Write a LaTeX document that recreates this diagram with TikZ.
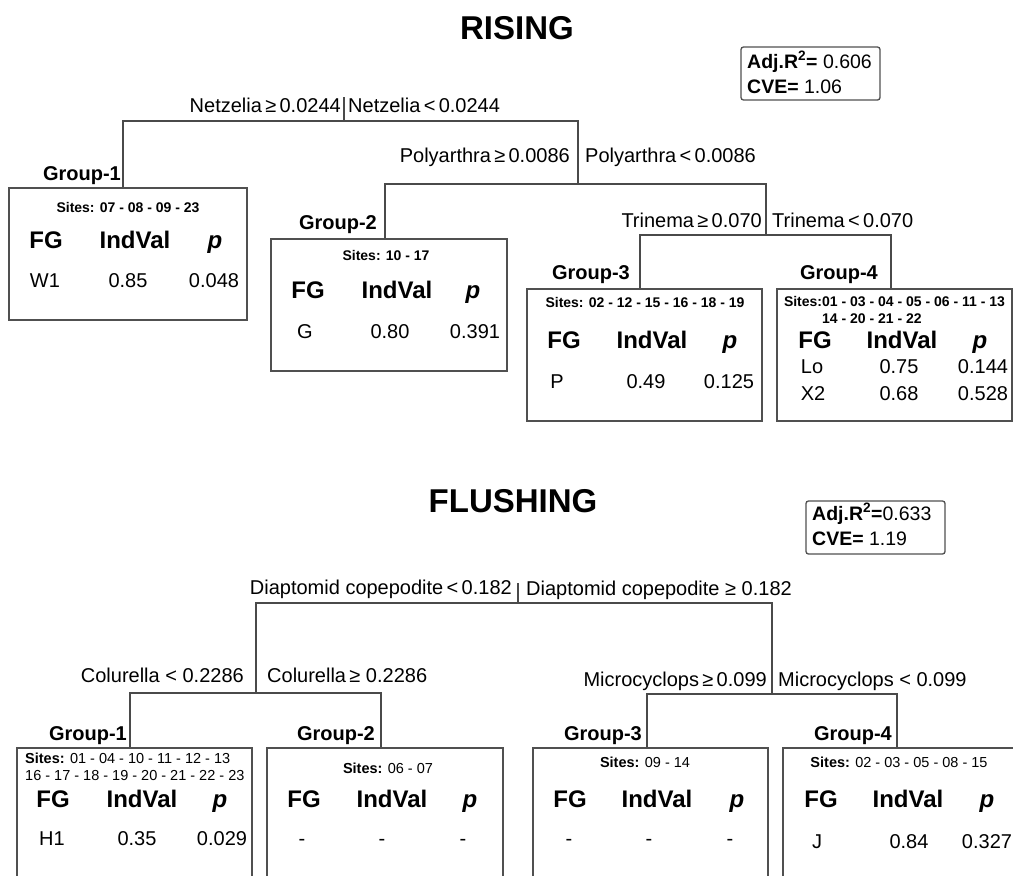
\documentclass[tikz,border=0pt]{standalone}
\usepackage{fontspec}
\setmainfont{Liberation Sans}
\definecolor{linegray}{HTML}{4A4A4A}
\definecolor{boxgray}{HTML}{505050}
\tikzset{
  lbl/.style={inner sep=0pt, font=\fontsize{20}{24}\selectfont},
  grp/.style={inner sep=0pt, anchor=base east, font=\fontsize{20}{24}\selectfont\bfseries},
  hdr/.style={inner sep=0pt, anchor=base, font=\fontsize{24}{28}\selectfont\bfseries},
  dat/.style={inner sep=0pt, anchor=base, font=\fontsize{20}{24}\selectfont},
  sitesr/.style={inner sep=0pt, anchor=base, font=\fontsize{14}{16}\selectfont\bfseries},
  sitesf/.style={inner sep=0pt, anchor=base, font=\fontsize{14.5}{16}\selectfont},
  ttl/.style={inner sep=0pt, anchor=base, font=\fontsize{33}{38}\selectfont\bfseries},
  adjt/.style={inner sep=0pt, anchor=base west, font=\fontsize{19.5}{22}\selectfont},
  leafbox/.style={draw=boxgray, line width=1.4pt, inner sep=0pt},
  adjbox/.style={draw=boxgray, line width=1.3pt, rounded corners=2.5pt, inner sep=0pt},
  edge/.style={draw=linegray, line width=1.5pt},
}
\newcommand{\hdrrow}[5]{%
  \node[hdr] (#1fg) at (#3,#2) {FG};
  \node[hdr] (#1iv) at (#4,#2) {IndVal};
  \node[hdr] (#1pp) at (#5,#2) {\itshape p};}
\newcommand{\datrow}[8]{%
  \node[dat] (#1a) at (#3,#2) {#4};
  \node[dat] (#1b) at (#5,#2) {#6};
  \node[dat] (#1c) at (#7,#2) {#8};}
\begin{document}
\begin{tikzpicture}[x=1pt,y=-1pt]
\useasboundingbox (0,0) rectangle (1013,876);
\clip (0,0) rectangle (1013,876);

%% ================= RISING =================
\node[ttl] (trise) at (517,39) {RISING};
\node[adjbox, minimum width=139pt, minimum height=53pt] (adjr) at (810.5,73.5) {};
\node[adjt] (adjr1) at (747,68) {\textbf{Adj.R\textsuperscript{2}=} 0.606};
\node[adjt] (adjr2) at (747,93) {\textbf{CVE=} 1.06};

% leaf boxes
\node[leafbox, minimum width=238pt, minimum height=132pt] (rb1) at (128,254) {};
\node[leafbox, minimum width=236pt, minimum height=132pt] (rb2) at (389,305) {};
\node[leafbox, minimum width=235pt, minimum height=132pt] (rb3) at (644.5,355) {};
\node[leafbox, minimum width=235pt, minimum height=132pt] (rb4) at (894.5,355) {};

% tree coordinates
\coordinate (rtk) at (344,97);
\coordinate (rj) at (344,121);
\coordinate (rL) at (123,121);
\coordinate (rR) at (578,121);
\coordinate (p0) at (578,184);
\coordinate (pL) at (385,184);
\coordinate (pR) at (766,184);
\coordinate (t0) at (766,235);
\coordinate (tL) at (640,235);
\coordinate (tR) at (891,235);

\draw[edge] (rtk) -- (rj);
\draw[edge] (rb1.north -| rL) -- (rL) -- (rR) -- (p0);
\draw[edge] (rb2.north -| pL) -- (pL) -- (pR) -- (t0);
\draw[edge] (rb3.north -| tL) -- (tL) -- (tR) -- (rb4.north -| tR);

% split labels
\node[lbl, anchor=base east] (rs1l) at (341,112) {Netzelia\,≥\,0.0244};
\node[lbl, anchor=base west] (rs1r) at (348,112) {Netzelia\,<\,0.0244};
\node[lbl, anchor=base east] (rs2l) at (570,162) {Polyarthra\,≥\,0.0086};
\node[lbl, anchor=base west] (rs2r) at (585,162) {Polyarthra\,<\,0.0086};
\node[lbl, anchor=base east] (rs3l) at (762,227) {Trinema\,≥\,0.070};
\node[lbl, anchor=base west] (rs3r) at (772,227) {Trinema\,<\,0.070};

% group labels
\node[grp] (rg1) at (121,180) {Group-1};
\node[grp] (rg2) at (377,229) {Group-2};
\node[grp] (rg3) at (630,279) {Group-3};
\node[grp] (rg4) at (878,279) {Group-4};

% box 1
\node[sitesr] (r1s) at (128,212) {Sites: 07 - 08 - 09 - 23};
\hdrrow{r1h}{248}{46}{135}{215}
\datrow{r1d}{287}{45}{W1}{128}{0.85}{214}{0.048}
% box 2
\node[sitesr] (r2s) at (386,260) {Sites: 10 - 17};
\hdrrow{r2h}{298}{308}{397}{473}
\datrow{r2d}{338}{305}{G}{390}{0.80}{475}{0.391}
% box 3
\node[sitesr] (r3s) at (645,307) {Sites: 02 - 12 - 15 - 16 - 18 - 19};
\hdrrow{r3h}{348}{564}{652}{730}
\datrow{r3d}{388}{557}{P}{646}{0.49}{729}{0.125}
% box 4
\node[sitesr] (r4s1) at (894.5,306) {Sites:01 - 03 - 04 - 05 - 06 - 11 - 13};
\node[sitesr] (r4s2) at (872,323) {14 - 20 - 21 - 22};
\hdrrow{r4h}{348}{815}{902}{980}
\datrow{r4d}{373}{812}{Lo}{899}{0.75}{983}{0.144}
\datrow{r4e}{400}{813}{X2}{899}{0.68}{983}{0.528}

%% ================= FLUSHING =================
\node[ttl] (tflush) at (513,512) {FLUSHING};
\node[adjbox, minimum width=139pt, minimum height=53pt] (adjf) at (875.5,527.5) {};
\node[adjt] (adjf1) at (812,520) {\textbf{Adj.R\textsuperscript{2}=}0.633};
\node[adjt] (adjf2) at (812,545) {\textbf{CVE=} 1.19};

\node[leafbox, minimum width=235pt, minimum height=152pt] (fb1) at (134.5,824) {};
\node[leafbox, minimum width=236pt, minimum height=152pt] (fb2) at (385,824) {};
\node[leafbox, minimum width=235pt, minimum height=152pt] (fb3) at (650.5,824) {};
\node[leafbox, minimum width=235pt, minimum height=152pt] (fb4) at (900.5,824) {};

\coordinate (ftk) at (518,583);
\coordinate (fj) at (518,603);
\coordinate (fL) at (256,603);
\coordinate (fR) at (772,603);
\coordinate (c0) at (256,693);
\coordinate (cL) at (130,693);
\coordinate (cR) at (381,693);
\coordinate (m0) at (772,694);
\coordinate (mL) at (647,694);
\coordinate (mR) at (897,694);

\draw[edge] (ftk) -- (fj);
\draw[edge] (c0) -- (fL) -- (fR) -- (m0);
\draw[edge] (fb1.north -| cL) -- (cL) -- (cR) -- (fb2.north -| cR);
\draw[edge] (fb3.north -| mL) -- (mL) -- (mR) -- (fb4.north -| mR);

\node[lbl, anchor=base east] (fs1l) at (512,594) {Diaptomid copepodite\,<\,0.182};
\node[lbl, anchor=base west] (fs1r) at (526,595) {Diaptomid copepodite ≥ 0.182};
\node[lbl, anchor=base east] (fs2l) at (244,682) {Colurella < 0.2286};
\node[lbl, anchor=base west] (fs2r) at (267,682) {Colurella\,≥ 0.2286};
\node[lbl, anchor=base east] (fs3l) at (767,686) {Microcyclops\,≥\,0.099};
\node[lbl, anchor=base west] (fs3r) at (778,686) {Microcyclops < 0.099};

\node[grp] (fg1) at (127,740) {Group-1};
\node[grp] (fg2) at (375,740) {Group-2};
\node[grp] (fg3) at (642,740) {Group-3};
\node[grp] (fg4) at (892,740) {Group-4};

% box 1
\node[sitesf, anchor=base west] (f1s1) at (25,763) {\textbf{Sites:} 01 - 04 - 10 - 11 - 12 - 13};
\node[sitesf, anchor=base west] (f1s2) at (25,780) {16 - 17 - 18 - 19 - 20 - 21 - 22 - 23};
\hdrrow{f1h}{807}{53}{142}{220}
\datrow{f1d}{845}{52}{H1}{137}{0.35}{222}{0.029}
% box 2
\node[sitesf] (f2s) at (388,773) {\textbf{Sites:} 06 - 07};
\hdrrow{f2h}{807}{304}{392}{470}
\datrow{f2d}{845}{302}{-}{382}{-}{463}{-}
% box 3
\node[sitesf] (f3s) at (645,767) {\textbf{Sites:} 09 - 14};
\hdrrow{f3h}{807}{570}{657}{737}
\datrow{f3d}{845}{569}{-}{649}{-}{730}{-}
% box 4
\node[sitesf] (f4s) at (899,767) {\textbf{Sites:} 02 - 03 - 05 - 08 - 15};
\hdrrow{f4h}{807}{821}{908}{987}
\datrow{f4d}{848}{817}{J}{909}{0.84}{987}{0.327}
\end{tikzpicture}
\end{document}
